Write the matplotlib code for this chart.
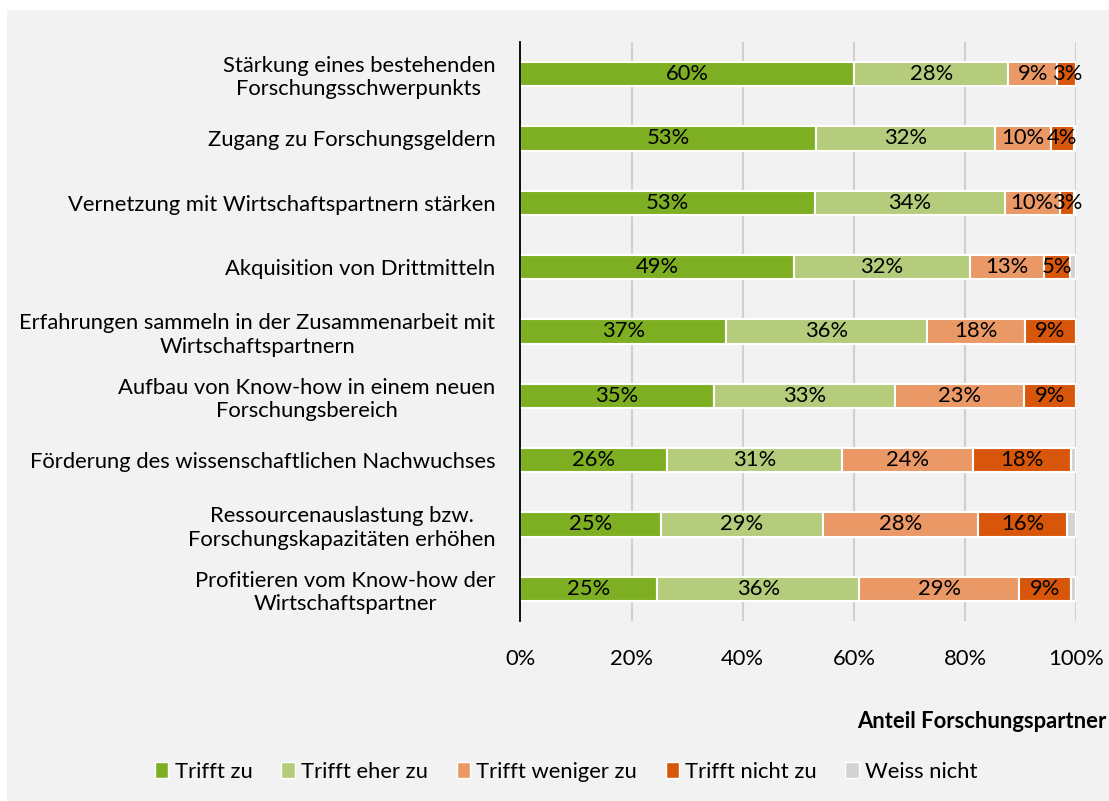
import matplotlib
matplotlib.use("Agg")
import matplotlib.pyplot as plt
from matplotlib.patches import Patch, Rectangle

plt.rcParams['font.family'] = ['Lato', 'DejaVu Sans']

categories = [
    "Stärkung eines bestehenden\nForschungsschwerpunkts",
    "Zugang zu Forschungsgeldern",
    "Vernetzung mit Wirtschaftspartnern stärken",
    "Akquisition von Drittmitteln",
    "Erfahrungen sammeln in der Zusammenarbeit mit\nWirtschaftspartnern",
    "Aufbau von Know-how in einem neuen\nForschungsbereich",
    "Förderung des wissenschaftlichen Nachwuchses",
    "Ressourcenauslastung bzw.\nForschungskapazitäten erhöhen",
    "Profitieren vom Know-how der\nWirtschaftspartner",
]
trifft_zu = [60.1, 53.2, 53.0, 49.2, 37.0, 34.8, 26.4, 25.3, 24.6]
trifft_eher_zu = [27.6, 32.1, 34.1, 31.7, 36.1, 32.6, 31.4, 29.1, 36.4]
trifft_weniger_zu = [8.9, 10.2, 9.9, 13.3, 17.6, 23.2, 23.6, 27.9, 28.7]
trifft_nicht_zu = [3.4, 4.0, 2.6, 4.6, 9.3, 9.4, 17.7, 16.1, 9.4]
weiss_nicht = [0.0, 0.5, 0.4, 1.2, 0.0, 0.0, 0.9, 1.6, 0.9]

series_names = ["Trifft zu", "Trifft eher zu", "Trifft weniger zu", "Trifft nicht zu", "Weiss nicht"]
series = [trifft_zu, trifft_eher_zu, trifft_weniger_zu, trifft_nicht_zu, weiss_nicht]
colors = ["#7EAF23", "#B4CC7B", "#E99866", "#D8560A", "#D3D3D3"]
labelled = [True, True, True, True, False]
xticks = [0, 20, 40, 60, 80, 100]
xlabel = "Anteil Forschungspartner"

FS = 15.8
fig = plt.figure(figsize=(11.09, 8.01), dpi=100)
fig.patch.set_facecolor("white")
fig.patches.append(Rectangle((7 / 1109, 0), 1 - 7 / 1109, 1 - 10 / 801,
                             transform=fig.transFigure, facecolor="#F2F2F2",
                             edgecolor="none", zorder=-10))

ax = fig.add_axes([520.3 / 1109, 1 - 621 / 801, 556 / 1109, 579 / 801])
ax.set_facecolor("#F2F2F2")
ax.patch.set_alpha(0)

y = list(range(len(categories)))
left = [0.0] * len(categories)
for vals, col, name, lab in zip(series, colors, series_names, labelled):
    bars = ax.barh(y, vals, left=left, height=0.38, color=col,
                   edgecolor="white", linewidth=1.5, label=name, zorder=3)
    if lab:
        for b, v in zip(bars, vals):
            if v >= 2:
                ax.text(b.get_x() + b.get_width() / 2, b.get_y() + b.get_height() / 2,
                        f"{round(v)}%", ha="center", va="center",
                        fontsize=FS, color="black", zorder=4)
    left = [l + v for l, v in zip(left, vals)]

ax.set_xlim(0, 100)
ax.set_ylim(len(categories) - 0.5, -0.5)
ax.set_xticks(xticks)
ax.set_xticklabels([f"{t}%" for t in xticks], fontsize=FS)
ax.set_yticks(y)
ax.set_yticklabels(categories, fontsize=FS, multialignment="center")
ax.tick_params(axis="both", length=0)
ax.tick_params(axis="x", pad=20)
ax.tick_params(axis="y", pad=18)
ax.xaxis.grid(True, color="#D0D0D0", linewidth=1.5, zorder=0)
ax.set_axisbelow(True)
for s in ["top", "right", "bottom"]:
    ax.spines[s].set_visible(False)
ax.spines["left"].set_color("black")
ax.spines["left"].set_linewidth(1.3)
ax.spines["left"].set_zorder(5)

fig.text(1106 / 1109, 1 - 721 / 801, xlabel, ha="right", va="center",
         fontsize=FS, fontweight="bold")

handles = [Patch(facecolor=c, edgecolor="white") for c in colors]
fig.legend(handles, series_names, loc="center", bbox_to_anchor=(566.5 / 1109, 1 - 771.7 / 801),
           ncol=5, frameon=False, fontsize=FS, handlelength=0.6, handleheight=0.75,
           handletextpad=0.3, columnspacing=1.3)

fig.savefig("out.png", dpi=100, facecolor=fig.get_facecolor())
